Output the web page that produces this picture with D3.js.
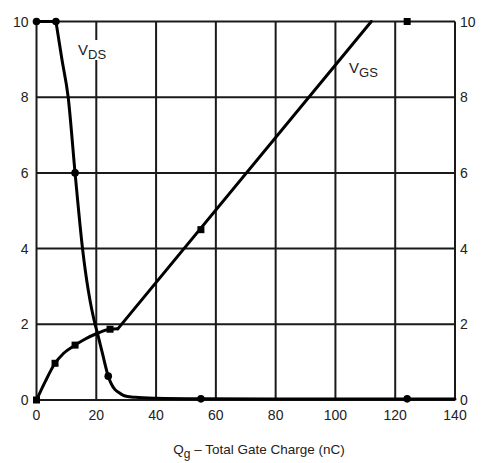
<!DOCTYPE html>
<html>
<head>
<meta charset="utf-8">
<script src="https://cdn.jsdelivr.net/npm/d3@7"></script>
<style>
  body { margin: 0; background: #fff; }
  text { font-family: "Liberation Sans", Arial, sans-serif; fill: #222; }
</style>
</head>
<body>
<div id="chart"></div>
<script>
// gate charge (nC) vs voltage (V)
const vdsFlatQ = [0, 6.5];
const vdsFlatV = [10, 10];
const vdsQ = [6.5, 8.5, 10.6, 12.9, 15.4, 19.6, 20.1, 22, 24, 26.2, 27.5, 28.9, 30, 33, 40, 55, 80, 124, 140];
const vdsV = [10, 9.0, 8, 6, 4, 2, 1.85, 1.25, 0.63, 0.28, 0.2, 0.13, 0.1, 0.07, 0.045, 0.03, 0.025, 0.025, 0.025];
const vgsCurveQ = [0, 3, 6.2, 9, 12.9, 16, 20, 24.6, 27.2];
const vgsCurveV = [0, 0.5, 0.97, 1.23, 1.45, 1.6, 1.75, 1.87, 1.88];
const vgsRampQ = [27.2, 112];
const vgsRampV = [1.88, 10];

const vdsMarkQ = [0, 6.5, 12.9, 24, 55, 124];
const vdsMarkV = [10, 10, 6, 0.63, 0.03, 0.03];
const vgsMarkQ = [0, 6.2, 12.9, 24.6, 55, 124];
const vgsMarkV = [0, 0.97, 1.45, 1.87, 4.5, 10];

const xTicks = [0, 20, 40, 60, 80, 100, 120, 140];
const yTicks = [0, 2, 4, 6, 8, 10];

const width = 487, height = 463;
const x = d3.scaleLinear().domain([0, 140]).range([36.5, 455]);
const y = d3.scaleLinear().domain([0, 10]).range([400, 21.5]);

const svg = d3.select('#chart').append('svg')
  .attr('width', width).attr('height', height);

// grid
svg.append('g').selectAll('line.v').data(xTicks).join('line')
  .attr('x1', d => x(d)).attr('x2', d => x(d))
  .attr('y1', y(10)).attr('y2', y(0))
  .attr('stroke', '#1a1a1a').attr('stroke-width', 2);
svg.append('g').selectAll('line.h').data(yTicks).join('line')
  .attr('x1', x(0)).attr('x2', x(140))
  .attr('y1', d => y(d)).attr('y2', d => y(d))
  .attr('stroke', '#1a1a1a').attr('stroke-width', 2);

// tick labels
const lbl = svg.append('g').attr('font-size', 14);
lbl.selectAll('text.l').data(yTicks).join('text')
  .attr('x', x(0) - 8).attr('y', d => y(d) + 5)
  .attr('text-anchor', 'end').text(d => d);
lbl.selectAll('text.r').data(yTicks).join('text')
  .attr('x', x(140) + 5).attr('y', d => y(d) + 5)
  .attr('text-anchor', 'start').text(d => d);
lbl.selectAll('text.b').data(xTicks).join('text')
  .attr('x', d => x(d)).attr('y', y(0) + 20)
  .attr('text-anchor', 'middle').text(d => d);

// VDS label with white background breaking the grid line
svg.append('rect').attr('x', 77).attr('y', 40).attr('width', 34).attr('height', 20).attr('fill', '#fff');
const vds = svg.append('text').attr('x', 78).attr('y', 55).attr('font-size', 15);
vds.append('tspan').text('V');
vds.append('tspan').attr('dy', 4).attr('font-size', 13).text('DS');

const vgs = svg.append('text').attr('x', 349).attr('y', 73).attr('font-size', 15);
vgs.append('tspan').text('V');
vgs.append('tspan').attr('dy', 4).attr('font-size', 13).text('GS');

// curves
const straight = d3.line().x(d => x(d[0])).y(d => y(d[1]));
const smooth = d3.line().curve(d3.curveMonotoneX).x(d => x(d[0])).y(d => y(d[1]));
const curves = [
  [straight, d3.zip(vdsFlatQ, vdsFlatV)],
  [smooth, d3.zip(vdsQ, vdsV)],
  [smooth, d3.zip(vgsCurveQ, vgsCurveV)],
  [straight, d3.zip(vgsRampQ, vgsRampV)]
];
curves.forEach(([gen, pts]) => {
  svg.append('path').datum(pts)
    .attr('d', gen).attr('fill', 'none')
    .attr('stroke', '#000').attr('stroke-width', 3)
    .attr('stroke-linejoin', 'round').attr('stroke-linecap', 'round');
});

// markers
svg.append('g').selectAll('circle').data(d3.zip(vdsMarkQ, vdsMarkV)).join('circle')
  .attr('cx', d => x(d[0])).attr('cy', d => y(d[1])).attr('r', 3.8).attr('fill', '#000');
svg.append('g').selectAll('rect').data(d3.zip(vgsMarkQ, vgsMarkV)).join('rect')
  .attr('x', d => x(d[0]) - 3.5).attr('y', d => y(d[1]) - 3.5)
  .attr('width', 7).attr('height', 7).attr('fill', '#000');

// x title
const xt = svg.append('text').attr('x', 259).attr('y', 454)
  .attr('text-anchor', 'middle').attr('font-size', 13.5);
xt.append('tspan').text('Q');
xt.append('tspan').attr('dy', 4).attr('font-size', 12).text('g');
xt.append('tspan').attr('dy', -4).text(' \u2013 Total Gate Charge (nC)');
</script>
</body>
</html>
